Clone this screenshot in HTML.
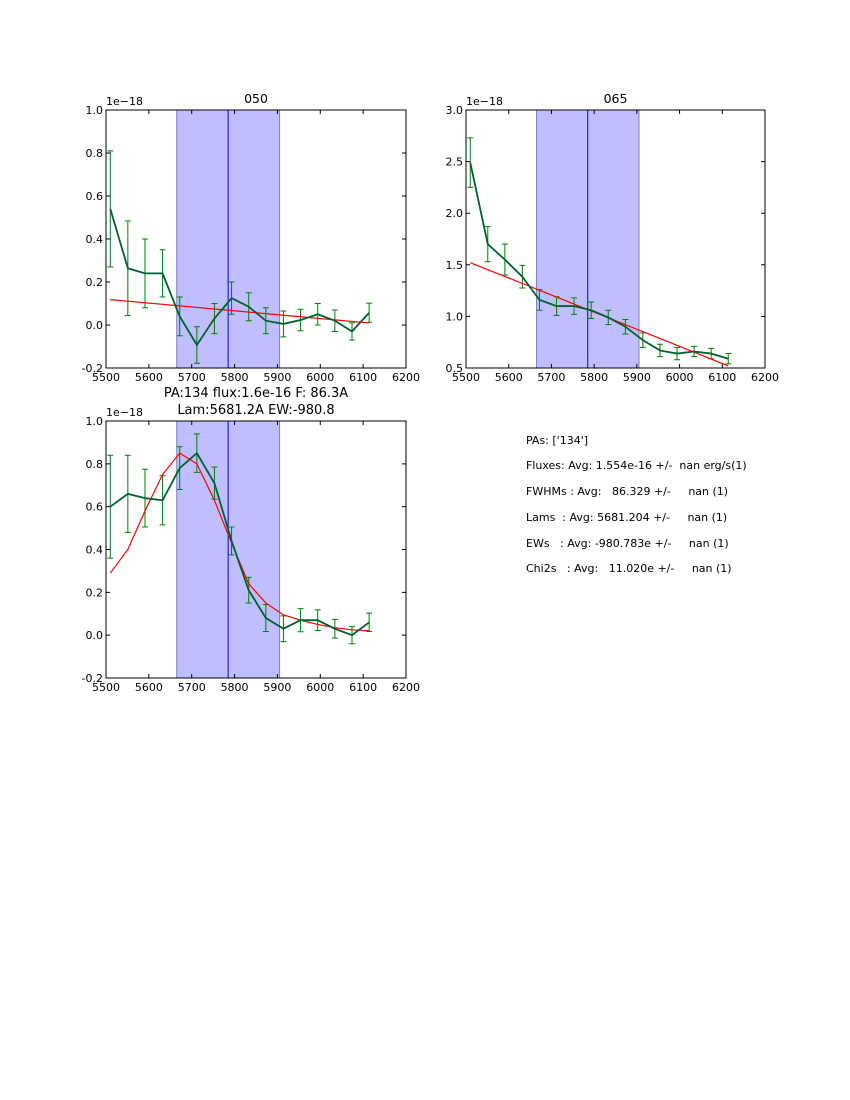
<!DOCTYPE html>
<html><head><meta charset="utf-8">
<style>
body{margin:0;background:#fff;}
svg{display:block;font-family:"DejaVu Sans","Liberation Sans",sans-serif;}
.stats{position:absolute;left:526px;font:11px "DejaVu Sans","Liberation Sans",sans-serif;white-space:pre;color:#000;}
</style></head>
<body>
<div style="position:relative;width:850px;height:1100px;">
<svg id="chart" width="850" height="1100" viewBox="0 0 850 1100"></svg>
<div class="stats" style="top:434px">PAs: ['134']</div>
<div class="stats" style="top:459px">Fluxes: Avg: 1.554e-16 +/-  nan erg/s(1)</div>
<div class="stats" style="top:485px">FWHMs : Avg:   86.329 +/-     nan (1)</div>
<div class="stats" style="top:511px">Lams  : Avg: 5681.204 +/-     nan (1)</div>
<div class="stats" style="top:537px">EWs   : Avg: -980.783e +/-     nan (1)</div>
<div class="stats" style="top:562px">Chi2s   : Avg:   11.020e +/-     nan (1)</div>
</div>
<script>
const wavelengths=[5510,5551,5591,5632,5672,5712,5753,5793,5833,5873,5914,5954,5994,6034,6074,6114];
const xTicks=[5500,5600,5700,5800,5900,6000,6100,6200];
const flux050=[0.54,0.264,0.24,0.24,0.04,-0.093,0.03,0.125,0.085,0.02,0.005,0.023,0.05,0.02,-0.03,0.057];
const err050=[0.27,0.22,0.16,0.11,0.09,0.085,0.07,0.075,0.065,0.06,0.06,0.05,0.05,0.05,0.04,0.045];
const fit050=[0.118,0.0108,0.1035,0.0963,0.089,0.0818,0.0745,0.0673,0.06,0.0528,0.0455,0.0383,0.031,0.0238,0.0165,0.01];
fit050[1]=0.1108;
const yTicks050=[-0.2,0.0,0.2,0.4,0.6,0.8,1.0];
const flux065=[2.49,1.70,1.55,1.385,1.16,1.10,1.10,1.06,0.99,0.90,0.77,0.67,0.64,0.66,0.64,0.59];
const err065=[0.24,0.17,0.15,0.11,0.10,0.09,0.08,0.08,0.07,0.07,0.07,0.06,0.06,0.05,0.05,0.05];
const fit065=[1.52,1.453,1.387,1.32,1.253,1.187,1.12,1.053,0.987,0.92,0.853,0.787,0.72,0.653,0.587,0.52];
const yTicks065=[0.5,1.0,1.5,2.0,2.5,3.0];
const flux134=[0.60,0.66,0.64,0.63,0.78,0.85,0.71,0.44,0.21,0.08,0.03,0.07,0.07,0.03,0.00,0.06];
const err134=[0.24,0.18,0.135,0.115,0.10,0.09,0.075,0.065,0.06,0.063,0.06,0.054,0.048,0.044,0.04,0.043];
const fit134=[0.29,0.40,0.58,0.75,0.85,0.80,0.63,0.43,0.24,0.15,0.095,0.07,0.05,0.035,0.025,0.02];
const yTicks134=[-0.2,0.0,0.2,0.4,0.6,0.8,1.0];
const band=[5665,5905];
const lineCenter=5785;

const NS='http://www.w3.org/2000/svg';
const svg=document.getElementById('chart');
function mk(tag,attrs,parent){const e=document.createElementNS(NS,tag);for(const k in attrs)e.setAttribute(k,attrs[k]);(parent||svg).appendChild(e);return e;}

function panel(name,L,T,W,H,xmin,xmax,ymin,ymax,yt,flux,err,fit,title){
  const g=mk('g',{});
  
  
  const X=v=>L+(v-xmin)/(xmax-xmin)*W;
  const Y=v=>T+(ymax-v)/(ymax-ymin)*H;
  const cp='clip-'+name;
  const c=mk('clipPath',{id:cp},g);mk('rect',{x:L,y:T,width:W,height:H},c);
  const sh=mk('rect',{x:X(band[0]),y:T,width:X(band[1])-X(band[0]),height:H,fill:'#bfbfff',stroke:'#8080c0','stroke-width':1},g);
  
  
  const vl=mk('line',{x1:X(lineCenter),x2:X(lineCenter),y1:T,y2:T+H,stroke:'#0000ff','stroke-width':1},g);
  
  
  const eg=mk('g',{'clip-path':'url(#'+cp+')'},g);
  wavelengths.forEach((w,i)=>{
    const x=X(w),y1=Y(flux[i]-err[i]),y2=Y(flux[i]+err[i]);
    const eb=mk('path',{d:`M${x},${y1}V${y2}M${x-3},${y1}H${x+3}M${x-3},${y2}H${x+3}`,stroke:'#008000','stroke-width':1,fill:'none'},eg);
    
    
  });
  const fl=mk('polyline',{points:wavelengths.map((w,i)=>X(w)+','+Y(fit[i])).join(' '),fill:'none',stroke:'#ff0000','stroke-width':1.2},eg);
  
  
  const dl=mk('polyline',{points:wavelengths.map((w,i)=>X(w)+','+Y(flux[i])).join(' '),fill:'none',stroke:'#006030','stroke-width':1.8},eg);
  
  
  mk('rect',{x:L,y:T,width:W,height:H,fill:'none',stroke:'#000','stroke-width':1},g);
  xTicks.forEach(v=>{
    const x=X(v);
    mk('path',{d:`M${x},${T+H}v-4M${x},${T}v4`,stroke:'#000','stroke-width':1},g);
    const t=mk('text',{x:x,y:T+H+13,'font-size':11,'text-anchor':'middle'},g);t.textContent=v;
    
    
  });
  yt.forEach(v=>{
    const y=Y(v);
    mk('path',{d:`M${L},${y}h4M${L+W},${y}h-4`,stroke:'#000','stroke-width':1},g);
    const t=mk('text',{x:L-3,y:y+4,'font-size':11,'text-anchor':'end'},g);t.textContent=v.toFixed(1);
    
    
  });
  const off=mk('text',{x:L,y:T-5,'font-size':11},g);off.textContent='1e\u221218';
  
  
  title.forEach((s,i)=>{
    const t=mk('text',{x:L+W/2,y:T-7-(title.length-1-i)*17,'font-size':title.length>1?13:12.5,'text-anchor':'middle'},g);t.textContent=s;
    
    
  });
}
panel('pa050',106,110,300,258,5500,6200,-0.2,1.0,yTicks050,flux050,err050,fit050,['050']);
panel('pa065',466,110,299,258,5500,6200,0.5,3.0,yTicks065,flux065,err065,fit065,['065']);
panel('pa134',106,421,300,257,5500,6200,-0.2,1.0,yTicks134,flux134,err134,fit134,['PA:134 flux:1.6e-16 F: 86.3A','Lam:5681.2A EW:-980.8']);
</script>
</body></html>
